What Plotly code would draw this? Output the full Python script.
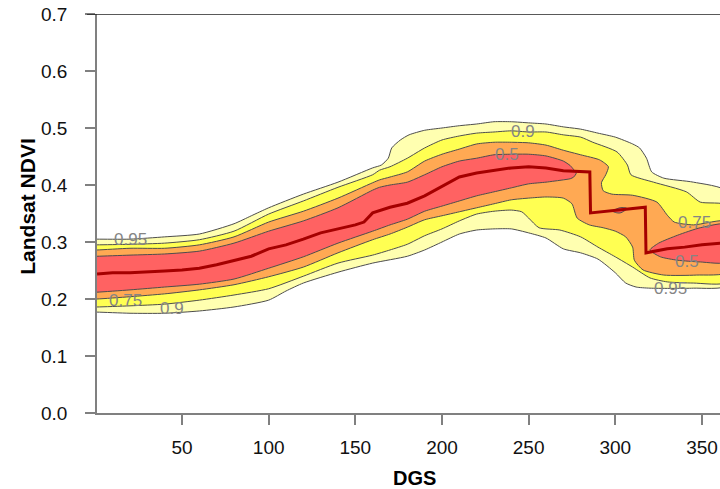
import plotly.graph_objects as go

# ---------------- data ----------------
# 95% region
q95_up_d = [-3, 1, 20, 40, 60, 80, 90, 100, 120, 140, 160, 165, 169, 171, 176, 181, 190, 200, 210, 220, 230, 240, 250, 260, 270, 280, 290, 300, 310, 314, 318, 321, 328, 345, 365]
q95_up_v = [0.305, 0.305, 0.305, 0.309, 0.314, 0.332, 0.346, 0.360, 0.384, 0.405, 0.430, 0.435, 0.447, 0.465, 0.479, 0.488, 0.496, 0.500, 0.504, 0.507, 0.511, 0.511, 0.509, 0.507, 0.502, 0.498, 0.491, 0.484, 0.472, 0.465, 0.447, 0.423, 0.412, 0.405, 0.388]
q95_lo_d = [-3, 1, 20, 40, 60, 80, 100, 110, 120, 140, 160, 180, 190, 200, 210, 220, 230, 240, 250, 260, 270, 280, 290, 300, 306, 312, 320, 345, 365]
q95_lo_v = [0.177, 0.177, 0.175, 0.175, 0.179, 0.186, 0.198, 0.214, 0.228, 0.247, 0.263, 0.275, 0.286, 0.300, 0.314, 0.321, 0.323, 0.323, 0.316, 0.307, 0.288, 0.281, 0.270, 0.246, 0.228, 0.221, 0.219, 0.219, 0.224]

# 90% region
q90_up_d = [-3, 1, 20, 40, 60, 80, 100, 120, 140, 160, 164, 170, 180, 190, 200, 210, 220, 230, 240, 250, 260, 270, 280, 287, 301, 307, 309, 322, 341, 349, 365]
q90_up_v = [0.295, 0.295, 0.296, 0.298, 0.304, 0.319, 0.349, 0.372, 0.396, 0.418, 0.426, 0.432, 0.447, 0.465, 0.479, 0.486, 0.491, 0.493, 0.495, 0.493, 0.493, 0.488, 0.484, 0.475, 0.458, 0.435, 0.418, 0.405, 0.388, 0.370, 0.364]
q90_lo_d = [-3, 1, 20, 40, 60, 80, 100, 120, 140, 160, 170, 180, 190, 200, 210, 220, 230, 240, 246, 250, 256, 268, 280, 290, 300, 310, 320, 330, 345, 365]
q90_lo_v = [0.186, 0.186, 0.188, 0.191, 0.198, 0.207, 0.218, 0.240, 0.263, 0.277, 0.286, 0.296, 0.311, 0.323, 0.337, 0.349, 0.354, 0.356, 0.353, 0.342, 0.325, 0.321, 0.309, 0.291, 0.274, 0.256, 0.237, 0.230, 0.228, 0.230]

# 75% region
q75_up_d = [-3, 1, 20, 40, 60, 80, 100, 120, 140, 160, 164, 170, 180, 190, 200, 210, 220, 230, 240, 250, 260, 270, 280, 291, 296, 294.5, 292, 293, 298, 310, 324, 330, 334, 345, 365]
q75_up_v = [0.286, 0.286, 0.289, 0.289, 0.295, 0.309, 0.335, 0.354, 0.377, 0.404, 0.409, 0.414, 0.423, 0.442, 0.454, 0.463, 0.472, 0.475, 0.475, 0.474, 0.470, 0.461, 0.453, 0.444, 0.432, 0.418, 0.404, 0.390, 0.384, 0.382, 0.370, 0.347, 0.335, 0.330, 0.336]
q75_lo_d = [-3, 1, 20, 40, 60, 80, 100, 120, 140, 160, 170, 180, 190, 200, 210, 220, 230, 240, 250, 260, 270, 275, 278, 285, 293, 300, 306, 310, 311, 316, 328, 347, 365]
q75_lo_v = [0.200, 0.200, 0.204, 0.209, 0.216, 0.225, 0.239, 0.256, 0.281, 0.304, 0.314, 0.326, 0.339, 0.346, 0.353, 0.360, 0.367, 0.374, 0.377, 0.379, 0.377, 0.367, 0.342, 0.330, 0.325, 0.319, 0.309, 0.291, 0.268, 0.251, 0.242, 0.242, 0.247]

# 50% region: first part (left), small blob, last part (right)
q50a_up_d = [-3, 1, 20, 40, 60, 80, 100, 120, 140, 160, 164, 170, 180, 190, 200, 210, 220, 230, 240, 250, 260, 270, 274, 276, 277.5]
q50a_up_v = [0.275, 0.275, 0.277, 0.279, 0.284, 0.298, 0.319, 0.337, 0.360, 0.391, 0.396, 0.400, 0.405, 0.418, 0.432, 0.442, 0.447, 0.453, 0.454, 0.454, 0.451, 0.442, 0.434, 0.427, 0.421]
q50a_lo_d = [-3, 1, 20, 40, 60, 80, 100, 120, 140, 160, 170, 180, 190, 200, 210, 220, 230, 240, 250, 260, 270, 274, 276]
q50a_lo_v = [0.212, 0.212, 0.216, 0.221, 0.226, 0.235, 0.254, 0.274, 0.298, 0.319, 0.330, 0.340, 0.354, 0.363, 0.372, 0.381, 0.388, 0.395, 0.402, 0.405, 0.409, 0.411, 0.414]
q50b_d = [298.6, 302.7, 306.7, 302.7]
q50b_v = [0.354, 0.360, 0.359, 0.351]
q50c_up_d = [320, 325, 336, 349, 365]
q50c_up_v = [0.286, 0.298, 0.312, 0.325, 0.331]
q50c_lo_d = [320, 326, 336, 349, 365]
q50c_lo_v = [0.286, 0.274, 0.268, 0.265, 0.265]

# median curve
med_d = [1, 10, 20, 30, 40, 50, 60, 70, 80, 90, 100, 110, 120, 130, 140, 150, 155, 160, 170, 180, 190, 200, 210, 220, 230, 240, 250, 260, 270, 280, 285.3, 285.7, 300, 317.3, 317.7, 330, 340, 350, 362]
med_v = [0.244, 0.246, 0.246, 0.247, 0.249, 0.251, 0.254, 0.260, 0.267, 0.275, 0.288, 0.295, 0.305, 0.316, 0.323, 0.330, 0.335, 0.351, 0.361, 0.368, 0.381, 0.398, 0.414, 0.421, 0.426, 0.430, 0.432, 0.430, 0.425, 0.423, 0.423, 0.351, 0.356, 0.361, 0.281, 0.288, 0.291, 0.295, 0.298]

# contour labels
lab_text = ["0.95", "0.75", "0.9", "0.9", "0.5", "0.75", "0.5", "0.95"]
lab_d = [20, 17.5, 44, 246.7, 237.5, 345.9, 341.4, 331.6]
lab_v = [0.305, 0.198, 0.184, 0.493, 0.453, 0.335, 0.265, 0.218]

x_ticks = [50, 100, 150, 200, 250, 300, 350]
y_ticks = [0.0, 0.1, 0.2, 0.3, 0.4, 0.5, 0.6, 0.7]

# ---------------- styles ----------------
FONT = "Liberation Sans, Arial, sans-serif"
C95 = "#FFFFB0"
C90 = "#FFFF52"
C75 = "#FFA953"
C50 = "#FF6262"
CMED = "#A50000"
CLINE = "#4d4d4d"

fig = go.Figure()


def band(up_d, up_v, lo_d, lo_v, color):
    xs = list(up_d) + list(lo_d)[::-1]
    ys = list(up_v) + list(lo_v)[::-1]
    fig.add_trace(go.Scatter(x=xs, y=ys, mode="lines", fill="toself",
                             fillcolor=color,
                             line=dict(color=CLINE, width=1, shape="spline", smoothing=0.6),
                             hoverinfo="skip", showlegend=False))


band(q95_up_d, q95_up_v, q95_lo_d, q95_lo_v, C95)
band(q90_up_d, q90_up_v, q90_lo_d, q90_lo_v, C90)
band(q75_up_d, q75_up_v, q75_lo_d, q75_lo_v, C75)
band(q50a_up_d, q50a_up_v, q50a_lo_d, q50a_lo_v, C50)
fig.add_trace(go.Scatter(x=q50b_d + q50b_d[:1], y=q50b_v + q50b_v[:1], mode="lines", fill="toself",
                         fillcolor=C50, line=dict(color=CLINE, width=1, shape="spline", smoothing=1.0),
                         hoverinfo="skip", showlegend=False))
band(q50c_up_d, q50c_up_v, q50c_lo_d, q50c_lo_v, C50)

fig.add_trace(go.Scatter(x=med_d, y=med_v, mode="lines",
                         line=dict(color=CMED, width=3),
                         hoverinfo="skip", showlegend=False))

for t, d, v in zip(lab_text, lab_d, lab_v):
    fig.add_annotation(x=d, y=v, text=t, showarrow=False, xref="x", yref="y",
                       font=dict(family=FONT, size=17, color="#858585"))

fig.add_annotation(xref="paper", yref="paper", x=0.509, y=-0.163, text="<b>DGS</b>",
                   showarrow=False, yanchor="middle",
                   font=dict(family=FONT, size=20, color="#000"))
fig.add_annotation(xref="paper", yref="paper", x=-0.111, y=0.519, text="<b>Landsat NDVI</b>",
                   showarrow=False, textangle=-90, xanchor="center", yanchor="middle",
                   font=dict(family=FONT, size=21, color="#000"))

# top border line
fig.add_shape(type="line", xref="paper", yref="y", x0=-0.016, x1=1, y0=0.7, y1=0.7,
              line=dict(color="#222", width=1.5))

fig.update_layout(
    width=720, height=489,
    margin=dict(l=97, r=0, t=14, b=76),
    paper_bgcolor="white", plot_bgcolor="white",
    font=dict(family=FONT, size=19, color="#111"),
    showlegend=False,
)
fig.update_xaxes(range=[0.96, 360.4], tickvals=x_ticks, ticks="outside", ticklen=10,
                 tickcolor="#808080", tickwidth=1.5, showline=True, linecolor="#808080",
                 linewidth=1.5, showgrid=False, zeroline=False, ticklabelstandoff=6,
                 tickfont=dict(family=FONT, size=19, color="#111"))
fig.update_yaxes(range=[0, 0.7], tickvals=y_ticks, tickformat=".1f", ticks="outside",
                 ticklen=10, tickcolor="#808080", tickwidth=1.5, showline=True,
                 linecolor="#808080", linewidth=1.5, showgrid=False, zeroline=False,
                 ticklabelstandoff=14,
                 tickfont=dict(family=FONT, size=19, color="#111"))

fig.write_html("out.html")
